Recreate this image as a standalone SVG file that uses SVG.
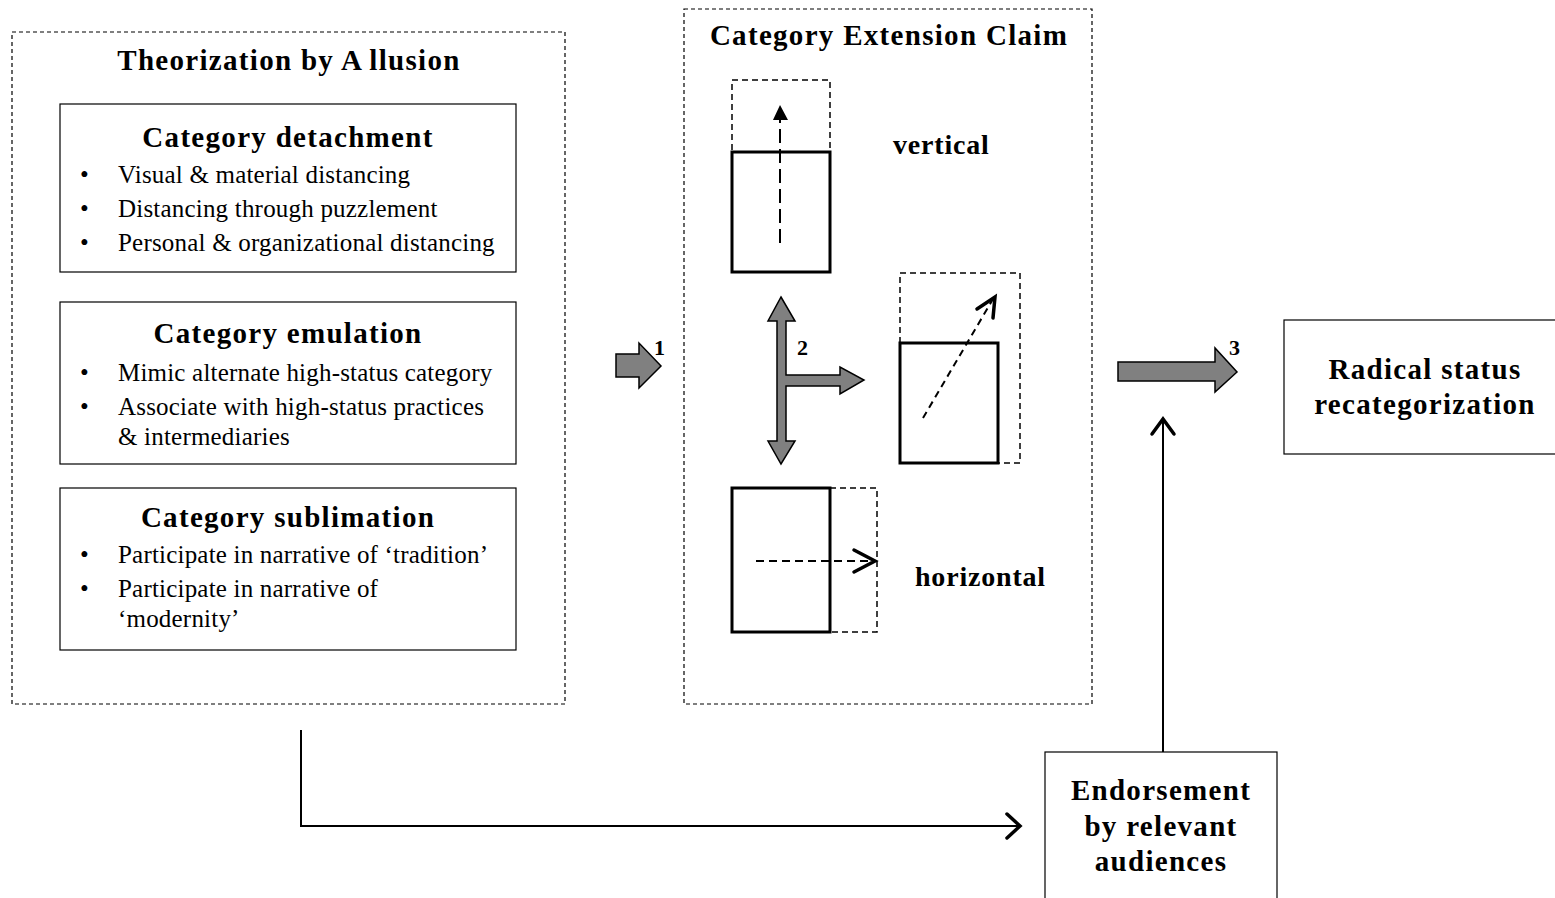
<svg xmlns="http://www.w3.org/2000/svg" width="1555" height="898" viewBox="0 0 1555 898">
<style>
text{font-family:"Liberation Serif",serif;fill:#000}
.t{font-weight:bold;font-size:29px;letter-spacing:1.3px;text-anchor:middle}
.b{font-size:25px;letter-spacing:0.2px}
.lbl{font-weight:bold;font-size:28px;letter-spacing:0.8px}
.num{font-weight:bold;font-size:22px}
.dash{fill:none;stroke:#000;stroke-width:1.2;stroke-dasharray:4 3}
.box{fill:#fff;stroke:#000;stroke-width:1.2}
.fig{fill:none;stroke:#000;stroke-width:3}
.fdash{fill:none;stroke:#000;stroke-width:1.5;stroke-dasharray:6 4}
.gray{fill:#808080;stroke:#000;stroke-width:1.5;stroke-linejoin:miter}
.conn{fill:none;stroke:#000;stroke-width:2}
.chev{fill:none;stroke:#000;stroke-width:3.5;stroke-linecap:round;stroke-linejoin:miter}
</style>
<rect width="1555" height="898" fill="#fff"/>

<g id="theorization">
<rect class="dash" x="12" y="32" width="553" height="672"/>
<text class="t" x="289" y="70" letter-spacing="1">Theorization by A<tspan dx="6">llusion</tspan></text>
</g>

<g id="detachment">
<rect class="box" x="60" y="104" width="456" height="168"/>
<text class="t" x="288" y="147">Category detachment</text>
<text class="b" x="80" y="183">•</text><text class="b" x="118" y="183">Visual &amp; material distancing</text>
<text class="b" x="80" y="217">•</text><text class="b" x="118" y="217">Distancing through puzzlement</text>
<text class="b" x="80" y="251">•</text><text class="b" x="118" y="251">Personal &amp; organizational distancing</text>
</g>

<g id="emulation">
<rect class="box" x="60" y="302" width="456" height="162"/>
<text class="t" x="288" y="343">Category emulation</text>
<text class="b" x="80" y="381">•</text><text class="b" x="118" y="381">Mimic alternate high-status category</text>
<text class="b" x="80" y="415">•</text><text class="b" x="118" y="415">Associate with high-status practices</text>
<text class="b" x="118" y="445">&amp; intermediaries</text>
</g>

<g id="sublimation">
<rect class="box" x="60" y="488" width="456" height="162"/>
<text class="t" x="288" y="527">Category sublimation</text>
<text class="b" x="80" y="563">•</text><text class="b" x="118" y="563">Participate in narrative of ‘tradition’</text>
<text class="b" x="80" y="597">•</text><text class="b" x="118" y="597">Participate in narrative of</text>
<text class="b" x="118" y="627">‘modernity’</text>
</g>

<g id="extension">
<rect class="dash" x="684" y="9" width="408" height="695"/>
<text class="t" x="889" y="45" letter-spacing="1.1">Category Extension Claim</text>
</g>

<g id="vertical-fig">
<rect class="fdash" x="732" y="80" width="98" height="72"/>
<rect class="fig" x="732" y="152" width="98" height="120"/>
<line x1="780" y1="243" x2="780" y2="118" stroke="#000" stroke-width="2" stroke-dasharray="14 6"/>
<polygon points="780,105 773,120 788,120" fill="#000"/>
<text class="lbl" x="893" y="154">vertical</text>
</g>

<g id="diagonal-fig">
<rect class="fdash" x="900" y="273" width="120" height="190"/>
<rect class="fig" x="900" y="343" width="98" height="120"/>
<line x1="923" y1="418" x2="993" y2="299" stroke="#000" stroke-width="2" stroke-dasharray="7 5"/>
<polyline class="chev" points="977,309 995,297 993,318"/>
</g>

<g id="horizontal-fig">
<rect class="fdash" x="830" y="488" width="47" height="144"/>
<rect class="fig" x="732" y="488" width="98" height="144"/>
<line x1="756" y1="561" x2="875" y2="561" stroke="#000" stroke-width="2" stroke-dasharray="8 5"/>
<polyline class="chev" points="854,550 875,561 854,572"/>
<text class="lbl" x="915" y="586">horizontal</text>
</g>

<g id="radical">
<rect class="box" x="1284" y="320" width="275" height="134"/>
<text class="t" x="1425" y="379">Radical status</text>
<text class="t" x="1425" y="414">recategorization</text>
</g>

<g id="endorsement">
<rect class="box" x="1045" y="752" width="232" height="160"/>
<text class="t" x="1161" y="800">Endorsement</text>
<text class="t" x="1161" y="836">by relevant</text>
<text class="t" x="1161" y="871">audiences</text>
</g>

<g id="connectors">
<polygon class="gray" points="616,354 639,354 639,343 661,366 639,388 639,377 616,377"/>
<text class="num" x="654" y="355">1</text>
<polygon class="gray" points="781,297 795,321 786,321 786,375 840,375 840,367 864,380 840,394 840,386 786,386 786,441 795,441 781,464 768,441 777,441 777,321 768,321"/>
<text class="num" x="797" y="355">2</text>
<polygon class="gray" points="1118,362 1215,362 1215,348 1237,372 1215,392 1215,381 1118,381"/>
<text class="num" x="1229" y="355">3</text>
<polyline class="conn" points="301,730 301,826 1019,826"/>
<polyline class="chev" points="1007,814 1020,826 1007,838"/>
<line class="conn" x1="1163" y1="752" x2="1163" y2="420"/>
<polyline class="chev" points="1152,434 1163,419 1174,434"/>
</g>
</svg>
